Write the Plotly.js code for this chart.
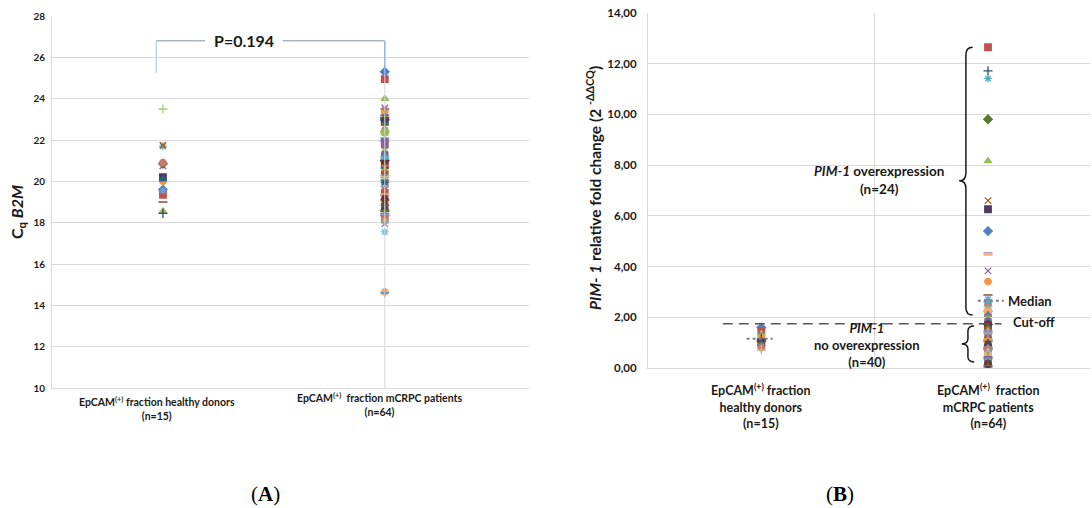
<!DOCTYPE html>
<html>
<head>
<meta charset="utf-8">
<script src="https://cdn.plot.ly/plotly-3.0.1.min.js"></script>
<style>html,body{margin:0;padding:0;background:#fff;}#chart{width:1092px;height:508px;}</style>
</head>
<body>
<div id="chart"></div>
<script>
// ---------- data ----------
// Panel A: Cq B2M
const aCategories = ['EpCAM<sup>(+)</sup> fraction healthy donors<br>(n=15)', 'EpCAM<sup>(+)</sup>  fraction mCRPC patients<br>(n=64)'];
const aHealthy = [19.6, 19.35, 18.55, 20.75, 21.7, 20.0, 18.45, 19.0, 20.85, 20.2, 20.1, 21.75, 19.55, 20.9, 23.5];
const aMcrpc = [25.3, 24.95, 24.0, 23.55, 23.45, 23.35, 23.2, 23.1, 23.0, 22.9, 22.8, 22.65, 22.5, 22.35, 22.25, 22.1,
  21.95, 21.85, 21.7, 21.55, 21.4, 21.3, 21.2, 21.1, 21.0, 20.85, 20.7, 20.6, 20.5, 20.4, 20.3, 20.2,
  20.05, 19.9, 19.8, 19.7, 19.6, 19.5, 19.4, 19.3, 19.1, 19.0, 18.9, 18.8, 18.75, 18.65, 18.55, 18.45,
  18.35, 18.2, 18.05, 17.95, 17.55, 14.65, 14.6, 23.5, 22.4, 21.9, 21.15, 20.65, 19.95, 19.15, 18.6, 22.95];
const aPValue = 'P=0.194';
const aBracketY = 26.8;

// Panel B: PIM-1 relative fold change
const bCategories = ['EpCAM<sup>(+)</sup> fraction<br>healthy donors<br>(n=15)', 'EpCAM<sup>(+)</sup>  fraction<br>mCRPC patients<br>(n=64)'];
const bHealthy = [1.6, 1.45, 1.35, 1.3, 1.25, 1.2, 1.15, 1.1, 1.05, 1.0, 0.95, 0.9, 0.85, 0.8, 0.72];
const bMcrpc = [5.40, 12.65, 8.16, 3.83, 11.42, 3.41, 11.72, 2.88, 9.81, 6.26, 2.30, 6.60, 2.71, 2.50, 2.40, 4.54,
  2.25, 2.20, 2.10, 2.00, 1.95, 1.85, 2.60, 4.46,
  1.72, 1.68, 1.62, 1.58, 1.55, 1.50, 1.46, 1.42, 1.38, 1.35, 1.30, 1.26, 1.22, 1.18, 1.15, 1.10,
  1.06, 1.02, 0.98, 0.94, 0.90, 0.86, 0.82, 0.78, 0.74, 0.70, 0.65, 0.60, 0.55, 0.50, 0.45, 0.40,
  0.36, 0.32, 0.28, 0.25, 0.20, 0.15, 0.10, 0.04];
const bCutoff = 1.75;
const bHealthyMedian = 1.15;
const bMcrpcMedian = 2.65;
const bOverTop = 12.65, bOverBottom = 2.09;
const bNoTop = 1.66, bNoBottom = 0.24;

// ---------- styles ----------
const W = 1092, H = 508;
const SYMBOLS = ['diamond','square','triangle-up','x-thin-open','asterisk-open','circle','cross-thin-open','line-ew-open'];
const COLORS = ['#4F81BD','#C0504D','#9BBB59','#8064A2','#4BACC6','#F79646','#2C4D75','#772C2A','#5F7530','#4D3B62','#276A7C','#B65708','#729ACA','#CD7371','#AFC97A','#9983B5','#6FBDD3','#F9AB6B'];
const FONT = 'Lato, "Open Sans", sans-serif';
const GRID = '#d9d9d9';
const TXT = '#1a1a1a';
const px = x => x / W;
const py = y => 1 - y / H;

function pts(vals, xpos, xa, ya) {
  const cols = vals.map((_, i) => COLORS[i % COLORS.length]);
  return {
    type: 'scatter', mode: 'markers', xaxis: xa, yaxis: ya,
    x: vals.map(() => xpos), y: vals, hoverinfo: 'skip', showlegend: false,
    marker: { symbol: vals.map((_, i) => SYMBOLS[i % SYMBOLS.length]), color: cols, size: 6.5,
              line: { color: cols, width: 1.3 } }
  };
}

const data = [
  pts(aHealthy, 1, 'x', 'y'),
  pts(aMcrpc, 3, 'x', 'y'),
  pts(bHealthy, 1, 'x2', 'y2'),
  pts(bMcrpc, 3, 'x2', 'y2')
];

function brace(xb, top, tip, bot, hx, ry) {
  return `M ${xb + hx},${top} Q ${xb},${top} ${xb},${top - ry} L ${xb},${tip + ry} Q ${xb},${tip} ${xb - hx},${tip} ` +
         `Q ${xb},${tip} ${xb},${tip - ry} L ${xb},${bot + ry} Q ${xb},${bot} ${xb + hx},${bot}`;
}

const shapes = [
  { type: 'line', xref: 'x', yref: 'y', x0: 3, x1: 3, y0: 10, y1: 25.2, line: { color: GRID, width: 1 } },
  { type: 'line', xref: 'x', yref: 'y', x0: 0.94, x1: 0.94, y0: 25.25, y1: aBracketY, line: { color: '#bdd7ee', width: 1.5 } },
  { type: 'line', xref: 'x', yref: 'y', x0: 3, x1: 3, y0: 25.2, y1: aBracketY, line: { color: '#8fb4e3', width: 1.5 } },
  { type: 'line', xref: 'x', yref: 'y', x0: 0.94, x1: 1.38, y0: aBracketY, y1: aBracketY, line: { color: '#a8b3c4', width: 1.5 } },
  { type: 'line', xref: 'x', yref: 'y', x0: 2.08, x1: 3, y0: aBracketY, y1: aBracketY, line: { color: '#a8b3c4', width: 1.5 } },
  { type: 'line', xref: 'x2', yref: 'y2', x0: 0.66, x1: 3.12, y0: bCutoff, y1: bCutoff, line: { color: '#595959', width: 1.5, dash: '10px,6px' } },
  { type: 'line', xref: 'x2', yref: 'y2', x0: 0.87, x1: 1.1, y0: bHealthyMedian, y1: bHealthyMedian, line: { color: '#7f7f7f', width: 2, dash: 'dot' } },
  { type: 'line', xref: 'x2', yref: 'y2', x0: 2.91, x1: 3.14, y0: bMcrpcMedian, y1: bMcrpcMedian, line: { color: '#7f7f7f', width: 2, dash: 'dot' } },
  { type: 'path', xref: 'x2', yref: 'y2', path: brace(2.805, bOverTop, 7.38, bOverBottom, 0.06, 0.3), line: { color: '#1a1a1a', width: 1.5 } },
  { type: 'path', xref: 'x2', yref: 'y2', path: brace(2.823, bNoTop, 0.95, bNoBottom, 0.055, 0.2), line: { color: '#1a1a1a', width: 1.5 } }
];

const bf = (size, extra) => Object.assign({ family: FONT, size: size, color: TXT, weight: 700 }, extra || {});
const ann = o => Object.assign({ showarrow: false, xanchor: 'center', yanchor: 'middle', align: 'center' }, o);

const annotations = [
  ann({ xref: 'x', yref: 'y', x: 1.73, y: aBracketY, text: aPValue, font: bf(16) }),
  ann({ xref: 'paper', yref: 'paper', x: px(18), y: py(212), text: 'C<sub>q</sub> <i>B2M</i>', textangle: -90, font: bf(16) }),
  ann({ xref: 'x', yref: 'paper', x: 0.95, y: py(393), yanchor: 'top', text: aCategories[0], font: bf(10.5) }),
  ann({ xref: 'x', yref: 'paper', x: 2.95, y: py(389), yanchor: 'top', text: aCategories[1], font: bf(10.5) }),
  ann({ xref: 'paper', yref: 'paper', x: px(593), y: py(188), text: '<i>PIM-</i> <i>1</i> relative fold change (2 <sup>-ΔΔCQ</sup>)', textangle: -90, font: bf(15.5) }),
  ann({ xref: 'x2', yref: 'paper', x: 1, y: py(379), yanchor: 'top', text: bCategories[0], font: bf(12.5) }),
  ann({ xref: 'x2', yref: 'paper', x: 3, y: py(379), yanchor: 'top', text: bCategories[1], font: bf(12.5) }),
  ann({ xref: 'x2', yref: 'y2', x: 2.035, y: 7.4, text: '<i>PIM-1</i> overexpression<br>(n=24)', font: bf(13.5) }),
  ann({ xref: 'x2', yref: 'y2', x: 1.93, y: 0.92, text: '<i>PIM-1</i><br>no overexpression<br>(n=40)', font: bf(13) }),
  ann({ xref: 'x2', yref: 'y2', x: 3.16, y: bMcrpcMedian, xanchor: 'left', text: 'Median', font: bf(13) }),
  ann({ xref: 'x2', yref: 'y2', x: 3.2, y: 1.8, xanchor: 'left', text: 'Cut-off', font: bf(13) }),
  ann({ xref: 'paper', yref: 'paper', x: px(265), y: py(494), text: '(<b>A</b>)', font: { family: '"Liberation Serif", serif', size: 21, color: '#000' } }),
  ann({ xref: 'paper', yref: 'paper', x: px(840), y: py(494), text: '(<b>B</b>)', font: { family: '"Liberation Serif", serif', size: 21, color: '#000' } })
];

const layout = {
  width: W, height: H, autosize: false,
  margin: { l: 0, r: 0, t: 0, b: 0 },
  paper_bgcolor: '#fff', plot_bgcolor: '#fff',
  separators: ',.',
  showlegend: false,
  xaxis: { domain: [px(52), px(529)], range: [0, 4.3], showgrid: false, zeroline: false, showticklabels: false,
           showline: true, linecolor: GRID, ticks: '', fixedrange: true },
  yaxis: { domain: [py(388), py(16)], range: [10, 28], tick0: 10, dtick: 2, gridcolor: GRID, zeroline: false,
           showline: true, linecolor: GRID, ticks: '', tickfont: bf(10), ticklabelstandoff: 4, fixedrange: true },
  xaxis2: { domain: [px(648), px(1090)], range: [0, 3.9], tickvals: [0, 2, 4], showgrid: true, gridcolor: GRID,
            zeroline: false, showticklabels: false, showline: true, linecolor: GRID, ticks: '', anchor: 'y2', fixedrange: true },
  yaxis2: { domain: [py(368), py(13)], range: [0, 14], tick0: 0, dtick: 2, tickformat: '.2f', gridcolor: GRID, zeroline: false,
            showline: true, linecolor: GRID, ticks: '', tickfont: bf(11.5), ticklabelstandoff: 8, anchor: 'x2', fixedrange: true },
  shapes: shapes,
  annotations: annotations
};

Plotly.newPlot('chart', data, layout, { staticPlot: true, displayModeBar: false });
</script>
</body>
</html>
